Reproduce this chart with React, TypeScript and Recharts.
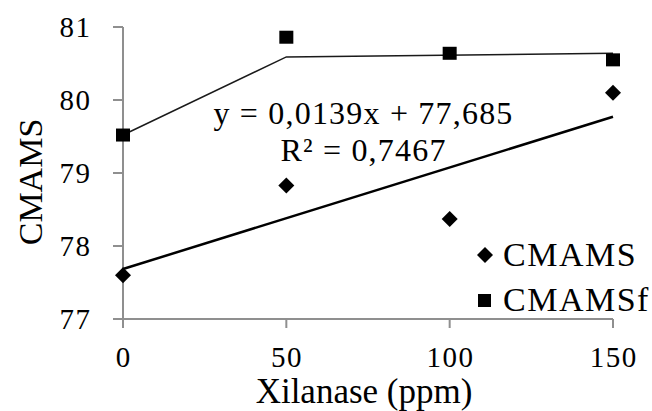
import { ScatterChart, Scatter, XAxis, YAxis, Legend } from 'recharts'

const doses = [0, 50, 100, 150]
const cmams = [77.6, 78.83, 78.37, 80.1]
const cmamsf = [79.52, 80.86, 80.64, 80.55]

// linear trend for CMAMS (y = 0,0139x + 77,685)
const trendX = [0, 150]
const trendY = [77.685, 79.77]

// broken-line fit for CMAMSf
const plateauX = [0, 50, 150]
const plateauY = [79.52, 80.59, 80.64]

const xTicks = [0, 50, 100, 150]
const yTicks = [77, 78, 79, 80, 81]

const font = '"Liberation Serif", "Times New Roman", Times, serif'
const axisGray = '#8f8f8f'

const toPoints = (xs: number[], ys: number[]) => xs.map((x, i) => ({ x, y: ys[i] }))

const diamond = (cx: number, cy: number, r: number) =>
  `M${cx},${cy - r}L${cx + r},${cy}L${cx},${cy + r}L${cx - r},${cy}Z`

const DiamondShape = (p: any) => <path d={diamond(p.cx, p.cy, 8)} fill="#000" />
const SquareShape = (p: any) => <rect x={p.cx - 7} y={p.cy - 6.5} width={14} height={13} fill="#000" />
const NoShape = () => <g />

const XTick = ({ x, y, payload }: any) => (
  <text
    x={x + 0.75}
    y={y + 39}
    textAnchor="middle"
    style={{ fontFamily: font, fontSize: 29, letterSpacing: 1.5 }}
    fill="#000"
  >
    {payload.value}
  </text>
)

// labels end ~33px left of the axis line
const YTick = ({ y, payload }: any) => (
  <text
    x={91.5}
    y={y + 10}
    textAnchor="end"
    style={{ fontFamily: font, fontSize: 29, letterSpacing: 1.5 }}
    fill="#000"
  >
    {payload.value}
  </text>
)

const LegendBox = () => (
  <svg width={182} height={90} style={{ display: 'block', overflow: 'visible' }}>
    <path d={diamond(15, 23, 8)} fill="#000" />
    <text x={33} y={34} style={{ fontFamily: font, fontSize: 34, letterSpacing: 1.5 }} fill="#000">
      CMAMS
    </text>
    <rect x={8} y={62} width={13} height={13} fill="#000" />
    <text x={33} y={79} style={{ fontFamily: font, fontSize: 34, letterSpacing: 1.5 }} fill="#000">
      CMAMSf
    </text>
  </svg>
)

export default function App() {
  return (
    <div style={{ position: 'absolute', left: 0, top: 0, width: 652, height: 411, background: '#fff' }}>
      <ScatterChart width={652} height={411} margin={{ top: 27, right: 39, bottom: 0, left: 0 }}>
        <XAxis
          type="number"
          dataKey="x"
          domain={[0, 150]}
          ticks={xTicks}
          tick={<XTick />}
          tickSize={9}
          tickMargin={0}
          stroke={axisGray}
          strokeWidth={2}
          height={92}
          label={{
            content: () => (
              <text x={364} y={403} textAnchor="middle" style={{ fontFamily: font, fontSize: 35 }} fill="#000">
                Xilanase (ppm)
              </text>
            ),
          }}
        />
        <YAxis
          type="number"
          dataKey="y"
          domain={[77, 81]}
          ticks={yTicks}
          tick={<YTick />}
          tickSize={10}
          tickMargin={0}
          stroke={axisGray}
          strokeWidth={2}
          width={123}
          label={{
            content: () => (
              <text
                x={42}
                y={182}
                transform="rotate(-90 42 182)"
                textAnchor="middle"
                style={{ fontFamily: font, fontSize: 34 }}
                fill="#000"
              >
                CMAMS
              </text>
            ),
          }}
        />
        <Scatter
          data={toPoints(trendX, trendY)}
          line={{ stroke: '#000', strokeWidth: 2.5 }}
          shape={NoShape}
          legendType="none"
          isAnimationActive={false}
        />
        <Scatter
          data={toPoints(plateauX, plateauY)}
          line={{ stroke: '#1a1a1a', strokeWidth: 1.5 }}
          shape={NoShape}
          legendType="none"
          isAnimationActive={false}
        />
        <Scatter name="CMAMS" data={toPoints(doses, cmams)} shape={DiamondShape} isAnimationActive={false} />
        <Scatter name="CMAMSf" data={toPoints(doses, cmamsf)} shape={SquareShape} isAnimationActive={false} />
        <Legend
          layout="vertical"
          align="center"
          verticalAlign="middle"
          content={<LegendBox />}
          wrapperStyle={{ position: 'absolute', left: 470, top: 232, width: 182, height: 90 }}
        />
        <text
          x={363.5}
          y={124}
          textAnchor="middle"
          style={{ fontFamily: font, fontSize: 32, letterSpacing: 1.2 }}
          fill="#000"
        >
          y = 0,0139x + 77,685
        </text>
        <text
          x={363.5}
          y={161}
          textAnchor="middle"
          style={{ fontFamily: font, fontSize: 32, letterSpacing: 1.2 }}
          fill="#000"
        >
          R² = 0,7467
        </text>
      </ScatterChart>
    </div>
  )
}
